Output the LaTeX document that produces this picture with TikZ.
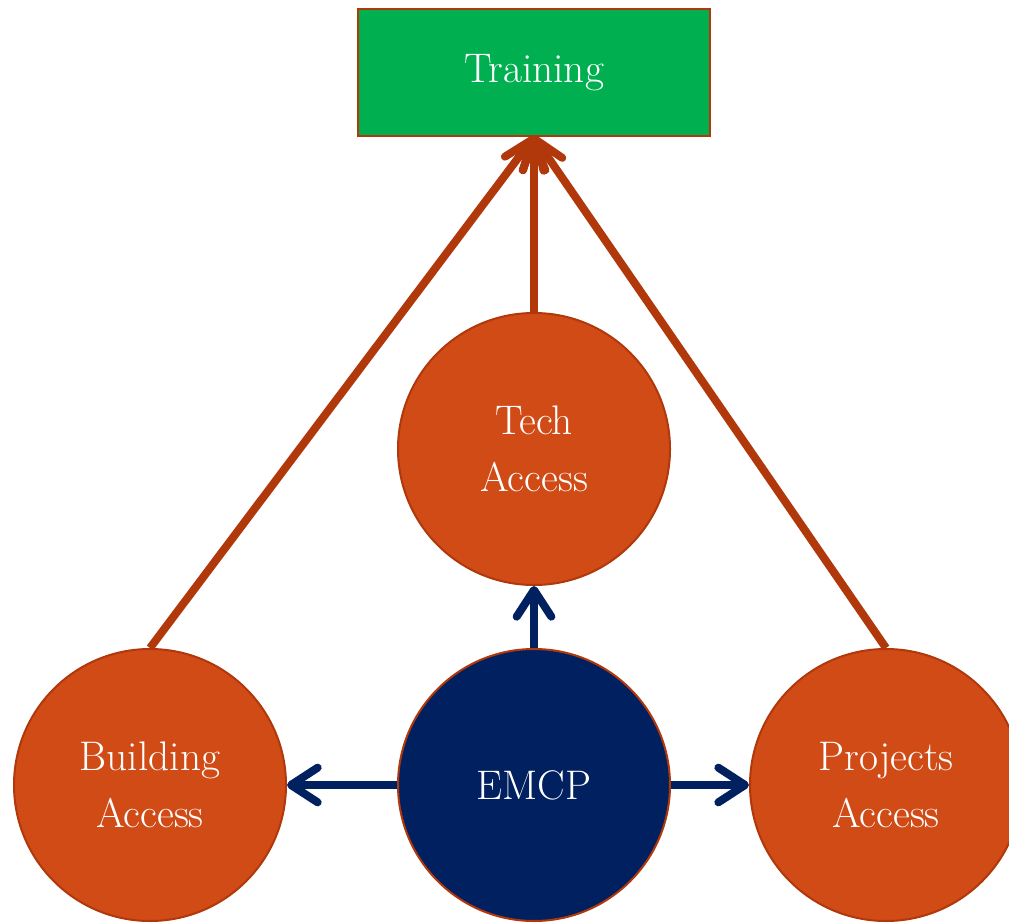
\documentclass[tikz,border=0pt]{standalone}
\usepackage{xcolor}
\usetikzlibrary{arrows.meta}

\definecolor{accfill}{HTML}{D14B17}
\definecolor{accline}{HTML}{B0380B}
\definecolor{navy}{HTML}{002060}
\definecolor{traingreen}{HTML}{00B050}

\begin{document}
\begin{tikzpicture}[x=0.75pt,y=0.75pt,
  lbl/.style={text=white,font=\fontsize{31}{43}\selectfont,align=center},
  access/.style={lbl,circle,fill=accfill,draw=accline,line width=1.5pt,minimum size=204pt,inner sep=0pt},
  core/.style={access,fill=navy},
  goal/.style={lbl,rectangle,fill=traingreen,draw=accline,line width=1.5pt,minimum width=264pt,minimum height=95pt},
  need/.style={accline,line width=6pt,-{Straight Barb[length=22pt,width=17pt,round]}},
  grant/.style={navy,line width=6pt,-{Straight Barb[length=20pt,width=26pt,round]}}]
\useasboundingbox (0,0) rectangle (1009,922);
\node[goal] (train) at (534,849.5) {Training};
\node[access] (tech) at (534,473) {Tech\\Access};
\node[access] (build) at (150,137) {Building\\Access};
\node[access] (proj) at (886,137) {Projects\\Access};
\node[core] (emcp) at (534,137) {EMCP};
% access levels all lead up to training
\draw[need] (build.north) -- (train.south);
\draw[need] (tech.north) -- (train.south);
\draw[need] (proj.north) -- (train.south);
% EMCP grants the three accesses
\draw[grant] (emcp.north) -- (tech.south);
\draw[grant] (emcp.west) -- (build.east);
\draw[grant] (emcp.east) -- (proj.west);
\end{tikzpicture}
\end{document}
